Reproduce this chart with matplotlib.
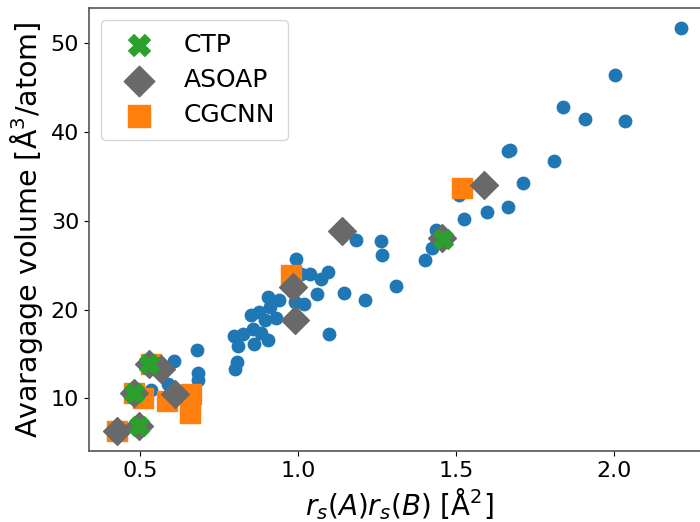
import numpy as np
import matplotlib
matplotlib.use("Agg")
import matplotlib.pyplot as plt

# all compounds: r_s(A) r_s(B) vs average volume
rs_all = [2.210, 2.001, 1.838, 1.907, 2.032, 1.664, 1.670, 1.810, 1.710, 1.665,
          1.598, 1.524, 1.509, 1.435, 1.424, 1.402, 1.310, 1.263, 1.266, 1.184,
          1.144, 1.213, 1.097, 0.994, 1.039, 1.073, 1.094, 1.008, 1.059, 1.020,
          0.989, 0.904, 0.941, 0.910, 0.852, 0.878, 0.894, 0.931, 0.799, 0.825,
          0.857, 0.883, 0.904, 0.809, 0.860, 0.807, 0.802, 0.681, 0.609, 0.683,
          0.685, 0.588, 0.535]
vol_all = [51.7, 46.4, 42.8, 41.45, 41.2, 37.8, 38.0, 36.7, 34.3, 31.6,
           30.95, 30.2, 32.9, 29.0, 26.9, 25.6, 22.7, 27.7, 26.2, 27.8,
           21.9, 21.1, 17.2, 25.7, 24.0, 23.5, 24.2, 24.0, 21.7, 20.65,
           20.8, 21.4, 21.1, 20.3, 19.4, 19.7, 18.8, 19.0, 17.0, 17.3,
           17.8, 17.4, 16.6, 15.95, 16.1, 14.06, 13.3, 15.4, 14.2, 12.9,
           12.1, 11.6, 10.9]

# predictions of each method
rs_ctp = [0.530, 0.482, 0.498, 1.458]
vol_ctp = [13.9, 10.6, 6.9, 28.0]

rs_asoap = [0.428, 0.498, 0.482, 0.530, 0.567, 0.611, 0.983, 0.991, 1.140, 1.455, 1.588]
vol_asoap = [6.35, 6.9, 10.6, 13.9, 13.3, 10.5, 22.5, 18.85, 28.9, 28.1, 34.0]

rs_cgcnn = [0.428, 0.482, 0.509, 0.535, 0.585, 0.662, 0.659, 0.978, 1.519]
vol_cgcnn = [6.35, 10.6, 10.1, 13.9, 9.74, 10.5, 8.4, 23.95, 33.7]

fig = plt.figure(figsize=(7, 5.22), dpi=100)
ax = fig.add_axes([0.127, 0.136, 0.886, 0.849])

ax.scatter(rs_all, vol_all, s=80, color='#1f77b4', zorder=1)
h_cgcnn = ax.scatter(rs_cgcnn, vol_cgcnn, s=220, marker='s', color='#ff7f0e', label='CGCNN', zorder=2)
h_asoap = ax.scatter(rs_asoap, vol_asoap, s=200, marker='D', color='dimgray', label='ASOAP', zorder=3)
h_ctp = ax.scatter(rs_ctp, vol_ctp, s=200, marker='X', color='#2ca02c', label='CTP', zorder=4)

ax.set_xlabel(r'$r_s(A)r_s(B)$ [$\mathrm{\AA}^2$]', fontsize=20)
ax.set_ylabel(r'Avaragage volume [$\mathrm{\AA}^3$/atom]', fontsize=20.5)
ax.tick_params(labelsize=16)
ax.set_xticks([0.5, 1.0, 1.5, 2.0])
for sp in ax.spines.values():
    sp.set_color('#555555')
    sp.set_linewidth(1.2)

ax.legend(handles=[h_ctp, h_asoap, h_cgcnn], loc='upper left', fontsize=18,
          borderpad=0.5, labelspacing=0.45, markerscale=1.1)

plt.savefig('out.png', dpi=100)
